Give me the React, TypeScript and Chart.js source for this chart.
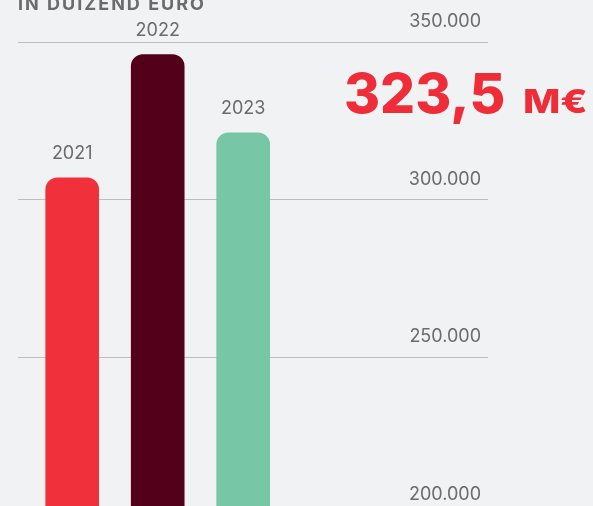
import React, { useEffect, useRef } from "react";
import { Chart, registerables } from "chart.js";

Chart.register(...registerables);

const categories = ["2021", "2022", "2023"];
const values = [306900, 346000, 321200];
const barColors = ["#f0303a", "#53001b", "#77c6a6"];
const yTicks = [200000, 250000, 300000, 350000];
const yTickLabels = ["200.000", "250.000", "300.000", "350.000"];
const titleText = "IN DUIZEND EURO";
const bigValue = "323,5";
const bigUnit = "M€";

const FONT = "Inter, 'Noto Sans', sans-serif";

const overlayPlugin = {
  id: "overlay",
  afterDatasetsDraw(chart: any) {
    const ctx = chart.ctx;
    const meta = chart.getDatasetMeta(0);
    ctx.save();
    ctx.fillStyle = "#6b6b6b";
    ctx.font = `400 18px ${FONT}`;
    ctx.textAlign = "center";
    ctx.textBaseline = "middle";
    meta.data.forEach((bar: any, i: number) => {
      ctx.fillText(categories[i], bar.x, bar.y - 24);
    });
    ctx.restore();
  },
  afterDraw(chart: any) {
    const ctx = chart.ctx;
    ctx.save();
    ctx.fillStyle = "#6b6b6b";
    ctx.font = `700 18px ${FONT}`;
    ctx.textAlign = "left";
    ctx.textBaseline = "alphabetic";
    (ctx as any).letterSpacing = "2px";
    ctx.fillText(titleText, 18, 10);
    (ctx as any).letterSpacing = "0px";
    ctx.fillStyle = "#ee2d38";
    ctx.font = `800 55px ${FONT}`;
    ctx.fillText(bigValue, 344, 113);
    ctx.translate(523, 113);
    ctx.scale(1.2, 1);
    ctx.font = `800 33px ${FONT}`;
    ctx.fillText(bigUnit, 0, 0);
    ctx.restore();
  },
};

export default function App() {
  const canvasRef = useRef<HTMLCanvasElement>(null);

  useEffect(() => {
    const canvas = canvasRef.current;
    if (!canvas) return;
    const chart = new Chart(canvas, {
      type: "bar",
      data: {
        datasets: [
          {
            data: categories.map((c, i) => ({ x: i + 1, y: values[i] })),
            backgroundColor: barColors,
            borderRadius: 12,
            barThickness: 53,
          },
        ],
      },
      options: {
        responsive: false,
        animation: false,
        layout: { padding: { top: 42, left: 18, right: 105, bottom: 45.5 } },
        plugins: {
          legend: { display: false },
          tooltip: { enabled: false },
          title: { display: false },
        },
        scales: {
          x: {
            type: "linear",
            display: false,
            offset: false,
            min: 0.366,
            max: 5.863,
          },
          y: {
            position: "right",
            min: 200000,
            max: 350000,
            afterBuildTicks: (axis: any) => {
              axis.ticks = yTicks.map((v) => ({ value: v }));
            },
            border: { display: false },
            grid: {
              color: "#bdbdbd",
              lineWidth: 1,
              drawTicks: false,
              tickLength: 0,
            },
            ticks: {
              mirror: true,
              padding: -7,
              labelOffset: -20,
              color: "#6b6b6b",
              font: { family: FONT, size: 18, weight: "400" as any },
              callback: (v: any) => {
                const idx = yTicks.indexOf(Number(v));
                return idx >= 0 ? yTickLabels[idx] : "";
              },
            },
          },
        },
      },
      plugins: [overlayPlugin],
    });
    return () => chart.destroy();
  }, []);

  return (
    <div
      style={{
        position: "fixed",
        left: 0,
        top: 0,
        width: 593,
        height: 506,
        overflow: "hidden",
        background: "#f1f2f4",
      }}
    >
      <canvas
        ref={canvasRef}
        width={593}
        height={560}
        style={{ display: "block", width: 593, height: 560 }}
      />
    </div>
  );
}
